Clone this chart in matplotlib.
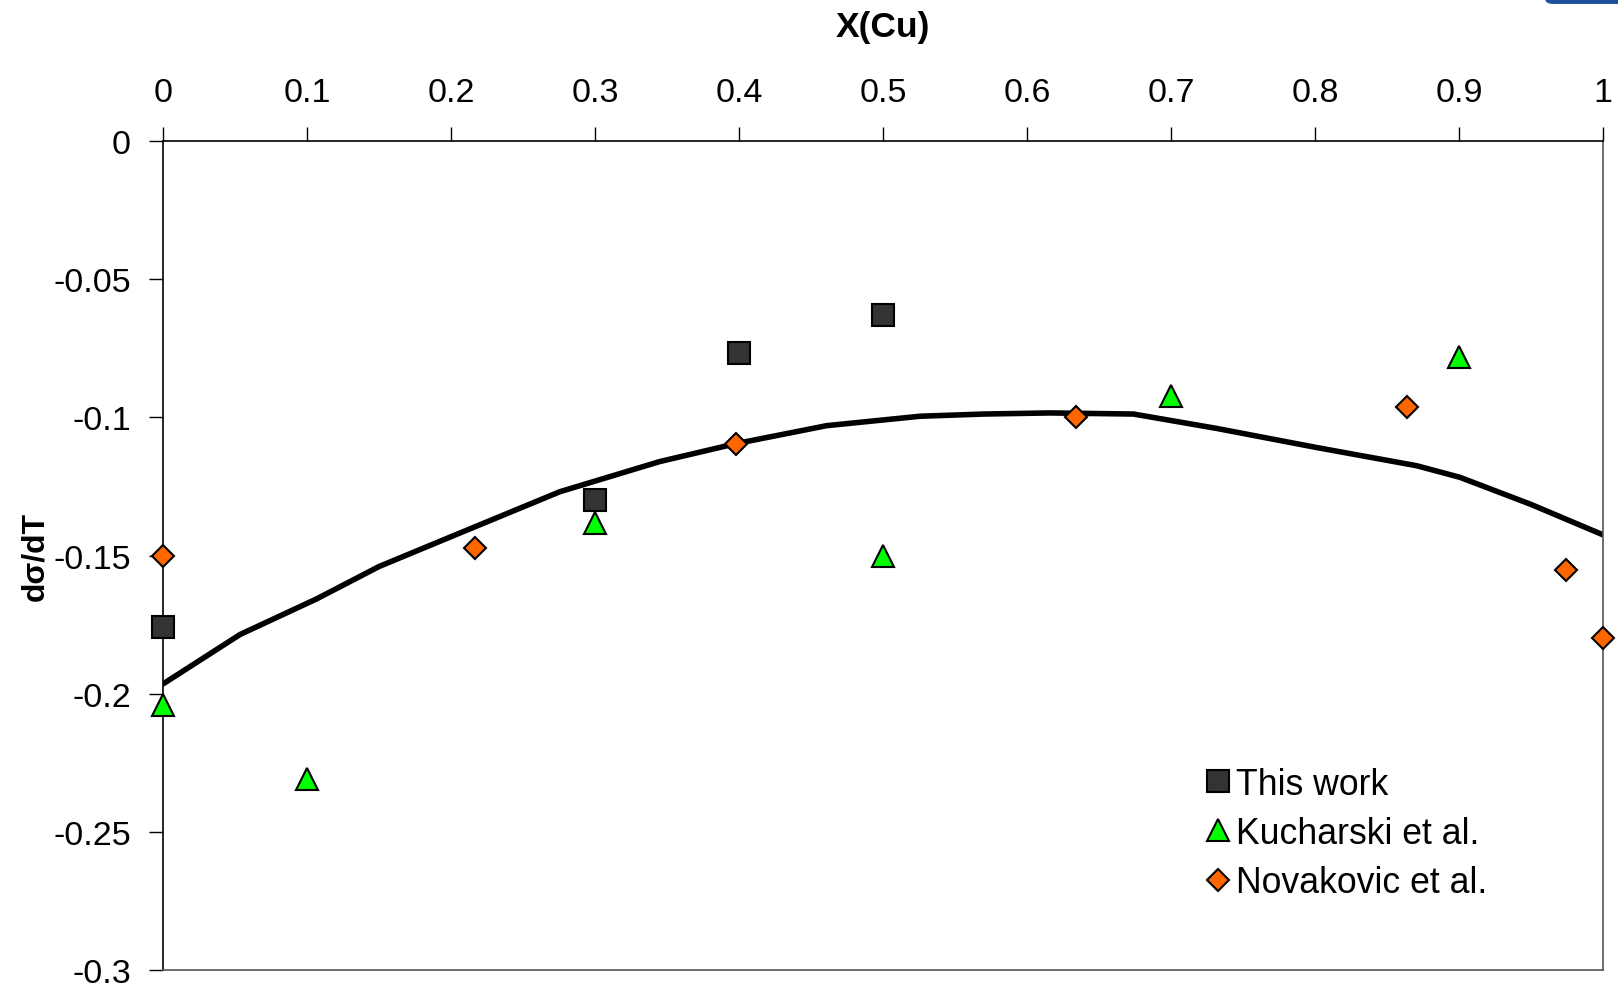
import matplotlib.pyplot as plt
import numpy as np
from matplotlib.patches import FancyBboxPatch

plt.rcParams['font.family'] = ['Liberation Sans', 'DejaVu Sans']

# This work
x_this = [0.0, 0.3, 0.4, 0.5]
y_this = [-0.1757, -0.1298, -0.0768, -0.0629]

# Kucharski et al.
x_kuch = [0.0, 0.1, 0.3, 0.5, 0.7, 0.9]
y_kuch = [-0.2040, -0.2309, -0.1384, -0.1503, -0.0922, -0.0783]

# Novakovic et al.
x_nova = [0.0, 0.2164, 0.398, 0.634, 0.8637, 0.974, 1.0]
y_nova = [-0.1503, -0.1473, -0.1095, -0.1000, -0.0963, -0.1553, -0.1800]

# fitted curve
x_fit = [0.0, 0.0535, 0.1067, 0.15, 0.2, 0.2757, 0.345, 0.398, 0.461, 0.5257,
         0.57, 0.616, 0.674, 0.7317, 0.801, 0.8706, 0.9007, 0.95, 1.0]
y_fit = [-0.1965, -0.1786, -0.1657, -0.1540, -0.1432, -0.1269, -0.1160, -0.1095, -0.1030, -0.0996,
         -0.0988, -0.0984, -0.0988, -0.1040, -0.1109, -0.1175, -0.1217, -0.1315, -0.1425]

xticks = [0, 0.1, 0.2, 0.3, 0.4, 0.5, 0.6, 0.7, 0.8, 0.9, 1.0]
xtick_labels = ["0", "0.1", "0.2", "0.3", "0.4", "0.5", "0.6", "0.7", "0.8", "0.9", "1"]
yticks = [0, -0.05, -0.1, -0.15, -0.2, -0.25, -0.3]
ytick_labels = ["0", "-0.05", "-0.1", "-0.15", "-0.2", "-0.25", "-0.3"]

fig = plt.figure(figsize=(16.18, 9.87), dpi=100)
ax = fig.add_axes([0.1007, 0.0162, 0.89, 0.8399])

ax.plot(x_fit, y_fit, color="black", lw=4, solid_capstyle="round",
        solid_joinstyle="round", zorder=2)
ax.plot(x_this, y_this, ls="none", marker="s", ms=16, mfc="#333333", mec="black",
        mew=1.5, label="This work", zorder=3, clip_on=False)
ax.plot(x_kuch, y_kuch, ls="none", marker="^", ms=16, mfc="#00ff00", mec="black",
        mew=1.5, label="Kucharski et al.", zorder=3, clip_on=False)
ax.plot(x_nova, y_nova, ls="none", marker="D", ms=11.5, mfc="#ff6600", mec="black",
        mew=1.5, label="Novakovic et al.", zorder=3, clip_on=False)

ax.set_xlim(0, 1)
ax.set_ylim(-0.3, 0)
ax.xaxis.tick_top()
ax.xaxis.set_label_position("top")
ax.set_xticks(xticks)
ax.set_xticklabels(xtick_labels)
ax.set_yticks(yticks)
ax.set_yticklabels(ytick_labels)
ax.tick_params(axis="x", direction="out", length=10, width=1, pad=14, labelsize=24.5)
ax.tick_params(axis="y", direction="out", length=10, width=1, pad=13, labelsize=24.5)

ax.set_xlabel("X(Cu)", fontsize=25.5, fontweight="bold", labelpad=29)
ax.set_ylabel("dσ/dT", fontsize=23, fontweight="bold", labelpad=2)

for side in ["top", "left"]:
    ax.spines[side].set_color("black")
    ax.spines[side].set_linewidth(1.2)
for side in ["right", "bottom"]:
    ax.spines[side].set_color("#555555")
    ax.spines[side].set_linewidth(1.2)

ax.legend(loc="upper left", bbox_to_anchor=(0.713, 0.267), frameon=False, fontsize=25.7,
          handlelength=0.6, handletextpad=0.2, labelspacing=0.4, borderpad=0)

# small blue shape cut off at the top right corner
fig.patches.append(FancyBboxPatch((0.955, 0.995), 0.06, 0.02, boxstyle="round,pad=0,rounding_size=0.005",
                                  transform=fig.transFigure, facecolor="#1f4e9a", edgecolor="none"))

fig.savefig("out.png", dpi=100)
